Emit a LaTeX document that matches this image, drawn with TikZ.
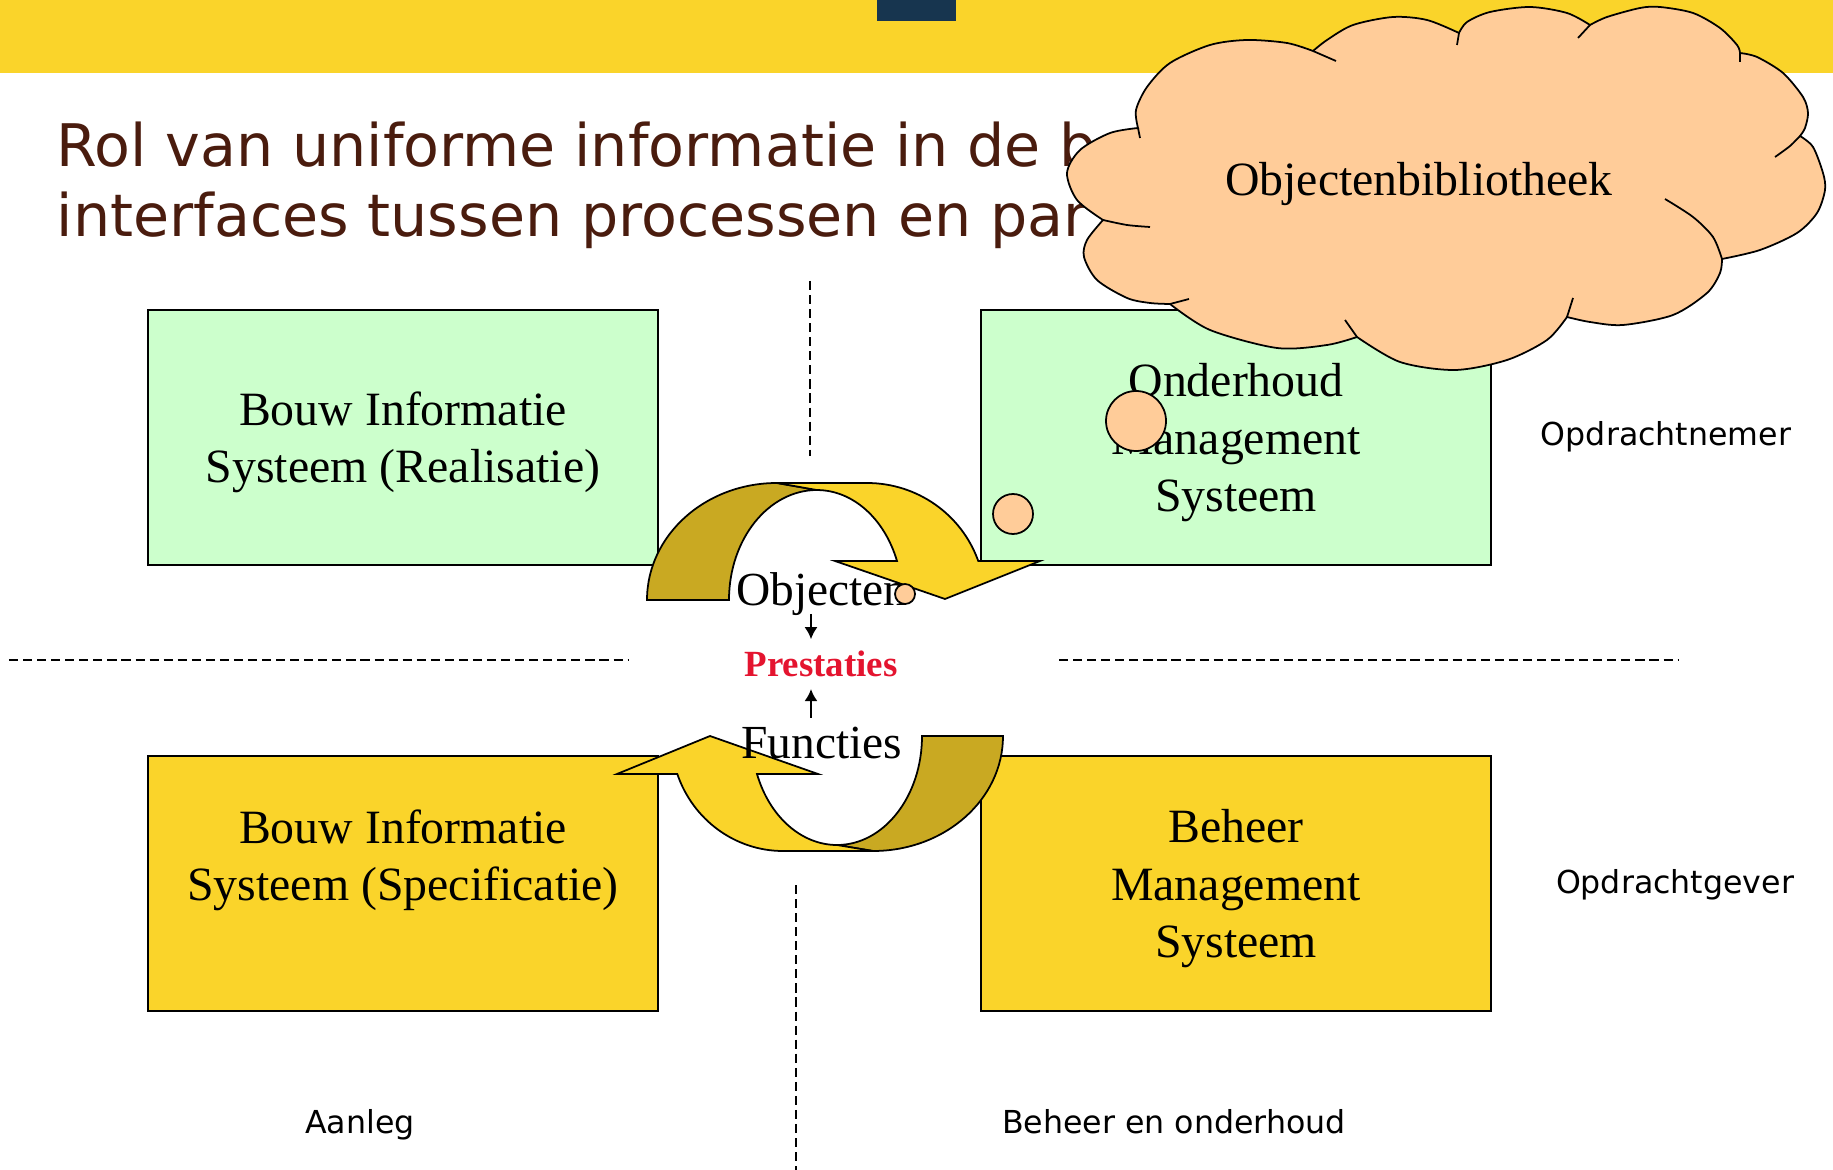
\documentclass[tikz,border=0pt]{standalone}
\usepackage{fontspec}
\setmainfont{Liberation Serif}
\newfontfamily\verdana{DejaVu Sans}
\usepackage{tikz}
\usetikzlibrary{arrows,arrows.meta,shapes,calc}
\definecolor{barYellow}{HTML}{FAD42A}
\definecolor{navyBlock}{HTML}{17354F}
\definecolor{mint}{HTML}{CCFFCC}
\definecolor{peach}{HTML}{FFCC99}
\definecolor{goldDark}{HTML}{C9A922}
\definecolor{titleBrown}{HTML}{4A1C0E}
\definecolor{prestRed}{HTML}{E4142F}
\tikzset{
         boxtext/.style={font=\fontsize{13.6}{16.3}\selectfont, align=center},
         greenbox/.style={boxtext, draw=black, line width=.5pt, fill=mint, text depth=0pt,
          minimum width=5.1cm, minimum height=2.55cm, inner sep=0pt},
         yellowbox/.style={greenbox, fill=barYellow},
         titletext/.style={font=\verdana\fontsize{16.7}{19.9}\selectfont, text=titleBrown, inner sep=0pt},
         sidetext/.style={font=\verdana\fontsize{9}{11}\selectfont, inner sep=0pt},
         midtext/.style={font=\fontsize{13.5}{16}\selectfont, inner sep=0pt},
         prestext/.style={font=\bfseries\fontsize{10.5}{12.5}\selectfont, text=prestRed, inner sep=0pt},
         divider/.style={line width=.55pt, dash pattern=on 2.6pt off 1.4pt},
         darkband/.style={fill=goldDark, draw=black, line width=.5pt},
         lightband/.style={fill=barYellow, draw=black, line width=.5pt},
         pointer/.style={-{Latex[length=.12cm,width=.13cm]}, line width=.55pt},
         bubble/.style={circle, draw=black, fill=peach, line width=.5pt, inner sep=0pt},
         cloudline/.style={draw=black, line width=.5pt}
        }
\begin{document}
\begin{tikzpicture}
\useasboundingbox (0,0) rectangle (18.33,-11.7);
\fill[white] (0,0) rectangle (18.33,-11.7); % page
\fill[barYellow] (0,0) rectangle (18.33,-.73); % top bar
\fill[navyBlock] (8.77,0) rectangle (9.56,-.21); % block in bar

% title
\node[titletext,anchor=base west] (title1) at (.56,-1.67) {Rol van uniforme informatie in de b};
\node[titletext,anchor=base west] (title2) at (.56,-2.37) {interfaces tussen processen en par};

% four systems
\node[greenbox] (bisreal) at (4.03,-4.375) {Bouw Informatie\\Systeem (Realisatie)};
\node[greenbox] (oms) at (12.36,-4.375) {Onderhoud\\Management\\Systeem};
\node[yellowbox] (bisspec) at (4.03,-8.835) {Bouw Informatie\\Systeem (Specificatie)\\\mbox{}};
\node[yellowbox] (bms) at (12.36,-8.835) {Beheer\\Management\\Systeem};

% dividers
\draw[divider] (8.1,-2.81) -- (8.1,-4.56);
\draw[divider] (7.96,-8.85) -- (7.96,-11.7);
\draw[divider] (.09,-6.6) -- (6.28,-6.6);
\draw[divider] (10.59,-6.6) -- (16.78,-6.6);

% curved arrow top
\filldraw[darkband] (6.47,-6) arc[start angle=180, end angle=90, x radius=1.3, y radius=1.17]
  -- (8.17,-4.9) arc[start angle=90, end angle=180, x radius=.88, y radius=1.1] -- cycle;
\filldraw[lightband] (7.77,-4.83) -- (8.67,-4.83) arc[start angle=90, end angle=19.5, x radius=1.18, y radius=1.17]
  -- (10.4,-5.61) -- (9.45,-5.99) -- (8.35,-5.61) -- (8.97,-5.61)
  arc[start angle=20.8, end angle=90, x radius=.856, y radius=1.1] -- cycle;

% curved arrow bottom
\filldraw[darkband] (10.03,-7.36) arc[start angle=0, end angle=-90, x radius=1.3, y radius=1.15]
  -- (8.37,-8.45) arc[start angle=-90, end angle=0, x radius=.85, y radius=1.09] -- cycle;
\filldraw[lightband] (8.73,-8.51) -- (7.83,-8.51) arc[start angle=-90, end angle=-160.7, x radius=1.12, y radius=1.15]
  -- (6.17,-7.74) -- (7.1,-7.36) -- (8.18,-7.74) -- (7.57,-7.74)
  arc[start angle=-159.6, end angle=-90, x radius=.854, y radius=1.09] -- cycle;

% middle
\node[midtext,anchor=base] (obj) at (8.22,-6.06) {Objecten};
\node[prestext,anchor=base] (prest) at (8.21,-6.77) {Prestaties};
\node[midtext,anchor=base] (func) at (8.22,-7.58) {Functies};
\draw[pointer,shorten <=-.03cm,shorten >=.115cm] ([xshift=-.11cm]obj.south) -- ([xshift=-.10cm]prest.north);
\draw[pointer,shorten <=.08cm,shorten >=.11cm] ([xshift=-.11cm]func.north) -- ([xshift=-.10cm]prest.south);

% side labels
\node[sidetext,anchor=base] (nemer) at (16.66,-4.46) {Opdrachtnemer};
\node[sidetext,anchor=base] (gever) at (16.75,-8.93) {Opdrachtgever};
\node[sidetext,anchor=base] (aanleg) at (3.6,-11.33) {Aanleg};
\node[sidetext,anchor=base] (beheer) at (11.74,-11.33) {Beheer en onderhoud};

% cloud
\filldraw[cloudline,fill=peach]
  plot[smooth] coordinates {(11.38,-1.28) (11.36,-1.1) (11.47,-.87) (11.7,-.63) (12.1,-.45) (12.47,-.4) (12.87,-.43) (13.13,-.51)}
  -- plot[smooth] coordinates {(13.13,-.51) (13.27,-.4) (13.53,-.25) (13.93,-.17) (14.27,-.2) (14.59,-.33)}
  -- plot[smooth] coordinates {(14.59,-.33) (14.67,-.22) (14.9,-.12) (15.3,-.07) (15.67,-.13) (15.9,-.25)}
  -- plot[smooth] coordinates {(15.9,-.25) (16.07,-.17) (16.4,-.08) (16.6,-.07) (16.93,-.13) (17.2,-.28) (17.37,-.45) (17.4,-.53)}
  -- plot[smooth] coordinates {(17.4,-.53) (17.57,-.57) (17.83,-.73) (18.03,-.97) (18.08,-1.13) (18.05,-1.28) (18,-1.36)}
  -- plot[smooth] coordinates {(18,-1.36) (18.13,-1.47) (18.23,-1.73) (18.25,-1.9) (18.17,-2.13) (17.97,-2.33) (17.6,-2.5) (17.22,-2.59)}
  -- plot[smooth] coordinates {(17.22,-2.59) (17.2,-2.73) (17.07,-2.93) (16.73,-3.15) (16.23,-3.25) (15.9,-3.22) (15.67,-3.17)}
  -- plot[smooth] coordinates {(15.67,-3.17) (15.47,-3.4) (15.07,-3.6) (14.55,-3.7) (14,-3.62) (13.57,-3.37)}
  -- plot[smooth] coordinates {(13.57,-3.37) (13.27,-3.45) (12.77,-3.48) (12.1,-3.3) (11.7,-3.04)}
  -- plot[smooth] coordinates {(11.7,-3.04) (11.5,-3.03) (11.27,-2.98) (10.97,-2.8) (10.84,-2.57) (10.87,-2.4) (11.03,-2.2)}
  -- plot[smooth] coordinates {(11.03,-2.2) (10.77,-2) (10.67,-1.73) (10.8,-1.5) (11.1,-1.33) (11.38,-1.28)}
  -- cycle;
\draw[cloudline] (11.38,-1.28) -- (11.4,-1.38); % hooks
\draw[cloudline] (13.13,-.51) -- (13.36,-.61);
\draw[cloudline] (14.59,-.33) -- (14.57,-.45);
\draw[cloudline] (15.9,-.25) -- (15.78,-.38);
\draw[cloudline] (17.4,-.53) -- (17.4,-.62);
\draw[cloudline] plot[smooth] coordinates {(18,-1.36) (17.9,-1.46) (17.75,-1.57)};
\draw[cloudline] plot[smooth] coordinates {(17.22,-2.59) (17.13,-2.37) (16.93,-2.17) (16.65,-1.99)};
\draw[cloudline] (15.67,-3.17) -- (15.73,-2.98);
\draw[cloudline] (13.57,-3.37) -- (13.45,-3.2);
\draw[cloudline] (11.7,-3.04) -- (11.89,-2.99);
\draw[cloudline] plot[smooth] coordinates {(11.03,-2.2) (11.27,-2.25) (11.5,-2.27)};
\node[boxtext,anchor=base] (lib) at (14.19,-1.96) {Objectenbibliotheek};

% thought bubbles
\node[bubble,minimum size=.6cm] (bub1) at (11.36,-4.21) {};
\node[bubble,minimum size=.4cm] (bub2) at (10.13,-5.14) {};
\node[bubble,minimum size=.2cm] (bub3) at (9.05,-5.94) {};

\end{tikzpicture}
\end{document}
